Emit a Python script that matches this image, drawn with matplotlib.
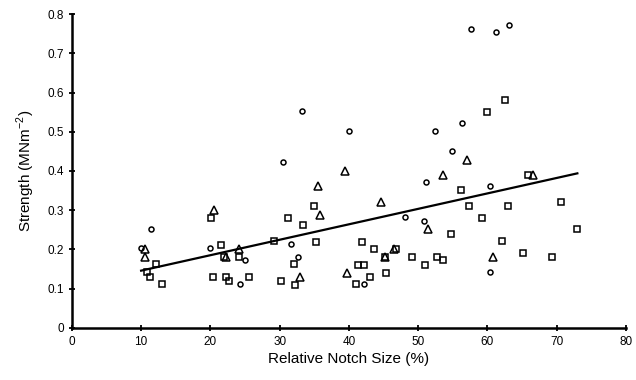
import matplotlib
matplotlib.use("Agg")
import matplotlib.pyplot as plt

# circles
circle_x = [10.0, 11.5, 19.9, 25.0, 24.3, 30.5, 31.6, 32.7, 33.2, 40.0, 42.2,
            48.1, 50.9, 51.2, 52.5, 54.9, 56.3, 57.6, 61.3, 63.1, 60.4, 60.4]
circle_y = [0.203, 0.253, 0.203, 0.173, 0.112, 0.423, 0.213, 0.182, 0.552, 0.501, 0.112,
            0.282, 0.272, 0.372, 0.501, 0.452, 0.522, 0.763, 0.754, 0.773, 0.363, 0.143]

# triangles
tri_x = [10.6, 10.6, 20.5, 22.2, 24.1, 39.5, 35.5, 35.8, 44.6, 53.6, 51.5, 45.2,
         46.5, 39.8, 32.9, 57.1, 66.6, 60.8]
tri_y = [0.202, 0.180, 0.301, 0.180, 0.200, 0.399, 0.361, 0.289, 0.320, 0.389, 0.251, 0.182,
         0.202, 0.141, 0.129, 0.429, 0.389, 0.180]

# squares
sq_x = [20.1, 21.6, 22.0, 24.2, 12.2, 10.8, 11.3, 13.0, 20.4, 22.2, 22.7, 25.6,
        29.2, 30.2, 31.2, 32.1, 32.2, 33.4, 35.0, 35.2, 41.9, 43.6, 45.2, 46.8,
        41.3, 42.2, 43.0, 41.0, 45.4, 49.1, 51.0, 52.7, 53.6, 54.8, 62.6, 60.0,
        56.2, 65.9, 57.3, 63.0, 70.7, 59.2, 72.9, 62.1, 65.2, 69.3]
sq_y = [0.280, 0.212, 0.180, 0.180, 0.162, 0.143, 0.130, 0.112, 0.130, 0.130, 0.119, 0.130,
        0.221, 0.120, 0.280, 0.162, 0.109, 0.262, 0.311, 0.220, 0.220, 0.201, 0.182, 0.201,
        0.161, 0.161, 0.130, 0.111, 0.141, 0.180, 0.161, 0.180, 0.172, 0.240, 0.582, 0.550,
        0.351, 0.389, 0.312, 0.312, 0.321, 0.280, 0.253, 0.221, 0.192, 0.180]

# trend line end points
trend_x = [10.0, 73.0]
trend_y = [0.146, 0.394]

x_ticks = [0, 10, 20, 30, 40, 50, 60, 70, 80]
y_ticks = [0, 0.1, 0.2, 0.3, 0.4, 0.5, 0.6, 0.7, 0.8]
y_labels = ["0", "0.1", "0.2", "0.3", "0.4", "0.5", "0.6", "0.7", "0.8"]

plt.rcParams["font.family"] = ["Liberation Sans", "DejaVu Sans"]

fig = plt.figure(figsize=(6.36, 3.8), dpi=100)
ax = fig.add_axes([0.113, 0.137, 0.871, 0.826])

mk = dict(linestyle="none", markerfacecolor="none", markeredgecolor="black",
          markeredgewidth=1.1, clip_on=False)
ax.plot(sq_x, sq_y, marker="s", markersize=5.0, **mk)
ax.plot(tri_x, tri_y, marker="^", markersize=5.2, **mk)
ax.plot(circle_x, circle_y, marker="o", markersize=3.6, **mk)
ax.plot(trend_x, trend_y, color="black", linewidth=1.6)

ax.set_xlim(0, 80)
ax.set_ylim(0, 0.8)
ax.set_xticks(x_ticks)
ax.set_yticks(y_ticks)
ax.set_yticklabels(y_labels)
ax.spines["top"].set_visible(False)
ax.spines["right"].set_visible(False)
ax.spines["left"].set_linewidth(1.8)
ax.spines["bottom"].set_linewidth(1.8)
ax.tick_params(direction="inout", length=5, width=1.3, labelsize=8.5, pad=3)

ax.set_xlabel("Relative Notch Size (%)", fontsize=11, labelpad=3)
ax.set_ylabel("Strength (MNm$^{\\mathregular{-2}}$)", fontsize=11, labelpad=8)

fig.savefig("out.png", dpi=100)
